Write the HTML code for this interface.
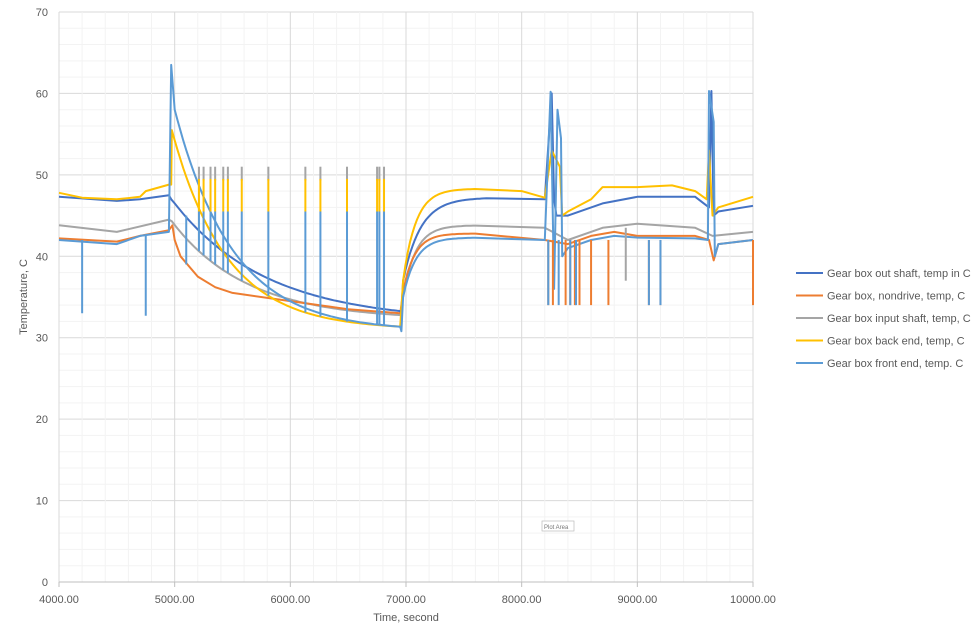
<!DOCTYPE html>
<html><head><meta charset="utf-8"><style>
body{margin:0;background:#fff;width:975px;height:627px;overflow:hidden;font-family:"Liberation Sans",sans-serif}
</style></head><body>
<svg id="s" width="975" height="627" xmlns="http://www.w3.org/2000/svg" font-family="Liberation Sans, sans-serif"></svg>
<script>
const s=document.getElementById('s');
const X=t=>59+(t-4000)*0.115667, Y=v=>582-v*8.143;
let h='';
for(let v=0;v<=70;v+=2){h+=`<line x1="59" x2="753" y1="${Y(v)}" y2="${Y(v)}" stroke="${v%10?'#f3f3f3':'#d9d9d9'}" stroke-width="1"/>`;}
for(let t=4000;t<=10000;t+=200){h+=`<line y1="12" y2="582" x1="${X(t)}" x2="${X(t)}" stroke="${t%1000?'#f3f3f3':'#d9d9d9'}" stroke-width="1"/>`;}
h+=`<line x1="59" x2="753" y1="582" y2="582" stroke="#bfbfbf"/>`;
for(let t=4000;t<=10000;t+=1000){h+=`<line x1="${X(t)}" x2="${X(t)}" y1="582" y2="587" stroke="#bfbfbf"/><text x="${X(t)}" y="603" font-size="11" fill="#595959" text-anchor="middle">${t}.00</text>`;}
for(let v=0;v<=70;v+=10){h+=`<text x="48" y="${Y(v)+4}" font-size="11" fill="#595959" text-anchor="end">${v}</text>`;}
h+=`<text x="406" y="621" font-size="11" fill="#595959" text-anchor="middle">Time, second</text>`;
h+=`<text transform="translate(27,297) rotate(-90)" font-size="11" fill="#595959" text-anchor="middle">Temperature, C</text>`;
function pl(pts,c){return `<polyline fill="none" stroke="${c}" stroke-width="2" stroke-linejoin="round" points="${pts.map(p=>X(p[0]).toFixed(1)+','+Y(p[1]).toFixed(1)).join(' ')}"/>`;}
function sp(t,a,b,c){return `<line x1="${X(t)}" x2="${X(t)}" y1="${Y(a)}" y2="${Y(b)}" stroke="${c}" stroke-width="2"/>`;}
function dec(t0,t1,v0,vinf,k){const r=[];for(let t=t0;t<=t1;t+=25)r.push([t,vinf+(v0-vinf)*Math.exp(-(t-t0)/k)]);return r;}
function rise(t0,t1,v0,vinf,k){const r=[];for(let t=t0;t<=t1;t+=20)r.push([t,vinf-(vinf-v0)*Math.exp(-(t-t0)/k)]);return r;}
const DB='#4472c4',OR='#ed7d31',GR='#a5a5a5',YE='#ffc000',LB='#5b9bd5';
const fG=t=>32.2+(44.3-32.2)*Math.exp(-(t-4975)/650);
const fY=t=>31+(55.5-31)*Math.exp(-(t-4975)/470);
const fL=t=>30.8+(58-30.8)*Math.exp(-(t-5000)/500);
const gray=[[4000,43.8],[4500,43],[4950,44.5],...dec(4975,6950,44.3,32.2,650),...rise(6980,7600,35.5,43.8,110),[8200,43.5],[8400,42],[8700,43.5],[9000,44],[9500,43.5],[9650,42.5],[10000,43]];
const orange=[[4000,42.2],[4500,41.8],[4700,42.5],[4950,43.2],[4980,43.8],[5000,42],[5050,40],[5200,37.5],[5350,36.2],[5500,35.5],[6000,34.5],[6500,33.5],[6950,33],...rise(6980,7600,36,42.8,100),[8200,42],[8400,41.5],[8600,42.5],[8800,43],[9000,42.5],[9500,42.5],[9620,42],[9660,39.5],[9700,41.5],[10000,42]];
const dblue=[[4000,47.3],[4500,46.8],[4700,47],[4950,47.5],[4970,47],...dec(5000,6950,46.5,32,800),[6960,33],...rise(6975,7700,37,47.2,150),[8200,47],[8260,60],[8280,47],[8300,45],[8400,45],[8700,46.5],[9000,47.3],[9500,47.3],[9620,46],[9640,60.3],[9660,45],[9700,45.5],[10000,46.2]];
const yel=[[4000,47.8],[4200,47.2],[4500,47],[4700,47.3],[4750,48],[4950,48.8],[4970,48.8],...dec(4975,6950,55.5,31,470),...rise(6975,7600,37,48.3,110),[8000,48],[8200,47.2],[8260,53],[8330,51],[8350,45],[8400,45.5],[8600,47],[8700,48.5],[9000,48.5],[9300,48.7],[9500,48],[9600,47],[9620,53],[9650,45],[9700,46],[10000,47.3]];
const lb=[[4000,42],[4500,41.5],[4700,42.5],[4950,43],[4970,63.5],...dec(5000,6950,58,30.8,500),[6960,30.8],...rise(6975,7600,35,42.3,110),[8200,42],[8250,60.2],[8280,36],[8310,58],[8340,54.5],[8350,40],[8400,41],[8600,42],[8800,42.5],[9000,42.3],[9500,42.2],[9610,42],[9620,60.3],[9660,56.5],[9670,40],[9700,41.5],[10000,42]];
h+=pl(gray,GR)+pl(orange,OR)+pl(dblue,DB)+pl(yel,YE)+pl(lb,LB);
[5210,5250,5310,5350,5420,5460,5580,5810,6130,6260,6490,6750,6770,6810].forEach(t=>{const b=Math.min(fL(t),fY(t),fG(t));h+=sp(t,49.3,51,GR)+sp(t,45.5,49.5,YE)+sp(t,b,45.5,LB);});
[[4200,42,33],[4750,42.5,32.7],[5100,45,39]].forEach(a=>h+=sp(a[0],a[1],a[2],LB));
[8230,8270,8380,8420,8460,8500,8600,8750,9100,9200,10000].forEach(t=>h+=sp(t,42,34,OR));
[8230,8320,8420,8470,9100,9200].forEach(t=>h+=sp(t,42,34,LB));
h+=sp(8900,43.5,37,GR);
h+=`<rect x="542" y="521" width="32" height="10" fill="#fff" stroke="#bbb" stroke-width="0.7"/><text x="544" y="529" font-size="6" fill="#777">Plot Area</text>`;
const leg=[['Gear box out shaft, temp in C',DB],['Gear box, nondrive, temp, C',OR],['Gear box input shaft, temp, C',GR],['Gear box back end, temp, C',YE],['Gear box front end, temp. C',LB]];
leg.forEach((l,i)=>{const y=273+i*22.5;h+=`<line x1="796" x2="823" y1="${y}" y2="${y}" stroke="${l[1]}" stroke-width="2"/><text x="827" y="${y+4}" font-size="11" fill="#595959">${l[0]}</text>`;});
s.innerHTML=h;
</script>
</body></html>
